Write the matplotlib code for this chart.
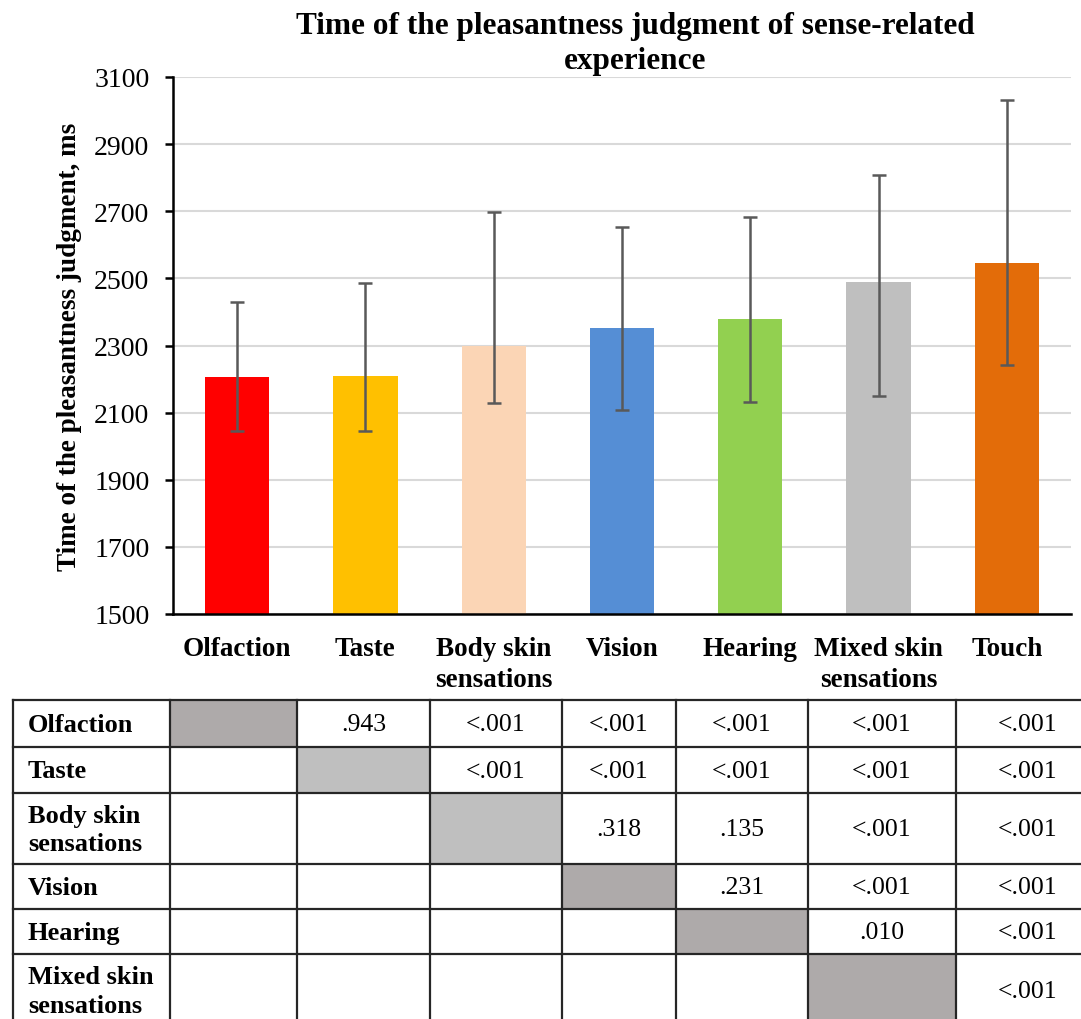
import numpy as np
import matplotlib.pyplot as plt
from matplotlib.patches import Rectangle

plt.rcParams['font.family'] = ['Liberation Serif', 'DejaVu Serif']

# bar chart data (ms)
senses = ['Olfaction', 'Taste', 'Body skin\nsensations', 'Vision', 'Hearing',
          'Mixed skin\nsensations', 'Touch']
means = [2207, 2210, 2299, 2352, 2378, 2490, 2546]
err_low = [2046, 2045, 2129, 2107, 2133, 2151, 2241]
err_high = [2431, 2485, 2698, 2652, 2684, 2808, 3030]
bar_colors = ['#FF0000', '#FFC000', '#FBD5B5', '#558ED5', '#92D050',
              '#BFBFBF', '#E36C09']

# pairwise p-values table
row_names = ['Olfaction', 'Taste', 'Body skin\nsensations', 'Vision', 'Hearing',
             'Mixed skin\nsensations']
p_values = [
    ['', '.943', '<.001', '<.001', '<.001', '<.001', '<.001'],
    ['', '', '<.001', '<.001', '<.001', '<.001', '<.001'],
    ['', '', '', '.318', '.135', '<.001', '<.001'],
    ['', '', '', '', '.231', '<.001', '<.001'],
    ['', '', '', '', '', '.010', '<.001'],
    ['', '', '', '', '', '', '<.001'],
]
diag_colors = ['#AEAAAA', '#BFBFBF', '#BFBFBF', '#AEAAAA', '#AEAAAA', '#AEAAAA']

W, H = 1081, 1020
fig = plt.figure(figsize=(W / 100, H / 100), dpi=100)

ax = fig.add_axes([173 / W, 1 - 615 / H, (1071 - 173) / W, (615 - 78) / H])
x = np.arange(len(senses))
means_a = np.array(means)
yerr = [means_a - np.array(err_low), np.array(err_high) - means_a]
ax.bar(x, means, width=0.5, color=bar_colors, zorder=2)
ax.errorbar(x, means, yerr=yerr, fmt='none', ecolor='#595959',
            elinewidth=1.8, capsize=5, capthick=1.8, zorder=3)

ax.set_xlim(-0.5, len(senses) - 0.5)
ax.set_ylim(1500, 3100)
ax.set_yticks(np.arange(1500, 3101, 200))
ax.yaxis.grid(True, color='#d9d9d9', lw=1.5)
ax.set_axisbelow(True)
for s in ['top', 'right']:
    ax.spines[s].set_visible(False)
for s in ['left', 'bottom']:
    ax.spines[s].set_linewidth(1.8)
ax.tick_params(axis='y', direction='out', length=6, width=1.8, labelsize=20, pad=11)
ax.tick_params(axis='x', length=0, pad=16)
ax.set_xticks(x)
ax.set_xticklabels(senses, fontsize=19.5, fontweight='bold', linespacing=1.3)
ax.set_ylabel('Time of the pleasantness judgment, ms', fontsize=19.5,
              fontweight='bold', labelpad=9)

fig.text(635 / W, 1 - 12 / H,
         'Time of the pleasantness judgment of sense-related\nexperience',
         ha='center', va='top', fontsize=22.5, fontweight='bold', linespacing=1.25)

# table drawn on a pixel-coordinate overlay
tax = fig.add_axes([0, 0, 1, 1])
tax.set_xlim(0, W)
tax.set_ylim(H, 0)
tax.axis('off')
col_edges = [13, 170, 297, 430, 562, 676, 808, 956, 1100]
row_edges = [701, 748, 794, 865, 910, 955, 1027]
line_col = '#262626'

for i, name in enumerate(row_names):
    y0, y1 = row_edges[i], row_edges[i + 1]
    yc = (y0 + y1) / 2
    # diagonal grey cell
    c0, c1 = col_edges[i + 1], col_edges[i + 2]
    tax.add_patch(Rectangle((c0, y0), c1 - c0, y1 - y0, facecolor=diag_colors[i],
                            edgecolor='none', zorder=1))
    tax.text(col_edges[0] + 15, yc + 1, name, ha='left', va='center', fontsize=19,
             fontweight='bold', linespacing=1.3, zorder=3)
    for j, val in enumerate(p_values[i]):
        if val:
            xc = (col_edges[j + 1] + col_edges[j + 2]) / 2
            tax.text(xc, yc + 1, val, ha='center', va='center', fontsize=18.5, zorder=3)

for xe in col_edges:
    tax.plot([xe, xe], [row_edges[0], row_edges[-1]], color=line_col, lw=1.6,
             zorder=4, solid_capstyle='projecting')
for ye in row_edges:
    tax.plot([col_edges[0], col_edges[-1]], [ye, ye], color=line_col, lw=1.6,
             zorder=4, solid_capstyle='projecting')

fig.savefig('out.png', dpi=100)
